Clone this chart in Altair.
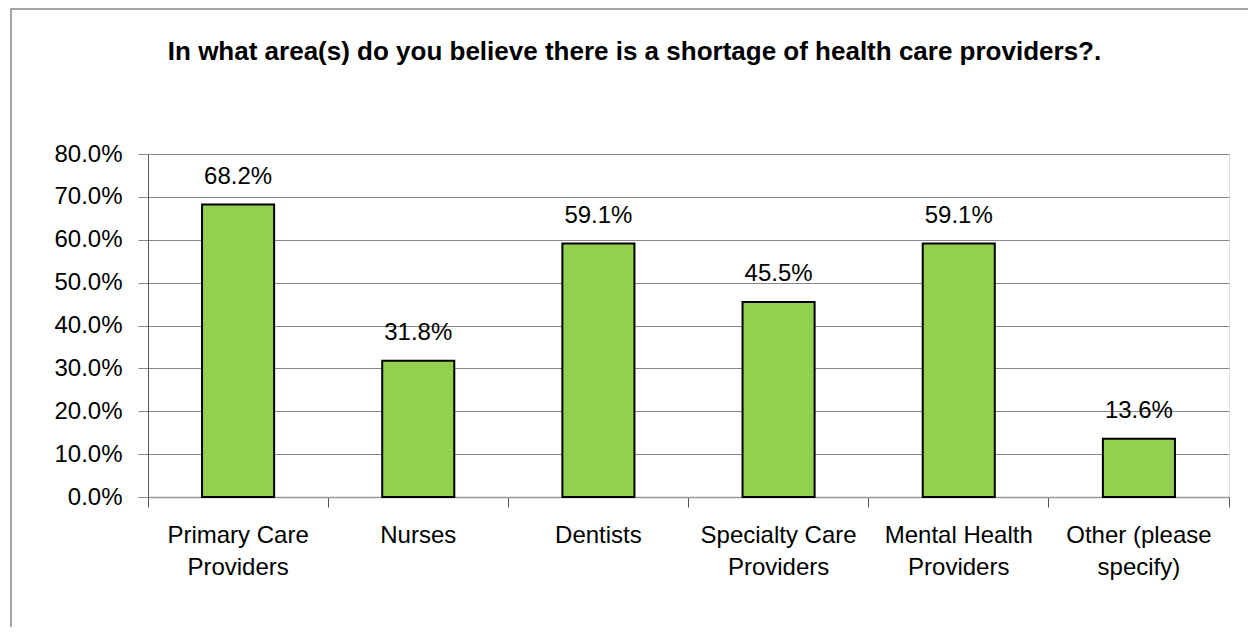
import altair as alt
import pandas as pd

categories = [
    "Primary Care Providers",
    "Nurses",
    "Dentists",
    "Specialty Care Providers",
    "Mental Health Providers",
    "Other (please specify)",
]
values = [0.682, 0.318, 0.591, 0.455, 0.591, 0.136]
y_ticks = [0.0, 0.1, 0.2, 0.3, 0.4, 0.5, 0.6, 0.7, 0.8]
title_text = "In what area(s) do you believe there is a shortage of health care providers?."

df = pd.DataFrame({"category": categories, "value": values})

FONT = "Liberation Sans"

x_enc = alt.X(
    "category:N",
    sort=categories,
    title=None,
    scale=alt.Scale(paddingInner=0, paddingOuter=0),
    axis=alt.Axis(
        labelAngle=0,
        labelFontSize=24,
        labelFont=FONT,
        labelColor="#000000",
        labelLineHeight=32,
        labelPadding=16,
        labelExpr="indexof(datum.label, ' ') > 0 ? [substring(datum.label, 0, lastindexof(datum.label, ' ')), substring(datum.label, lastindexof(datum.label, ' ') + 1)] : datum.label",
        bandPosition=1,
        tickExtra=True,
        tickSize=10,
        tickColor="#555555",
        domainColor="#999999",
        domainWidth=1.5,
        grid=False,
    ),
)

y_enc = alt.Y(
    "value:Q",
    title=None,
    scale=alt.Scale(domain=[0, 0.8]),
    axis=alt.Axis(
        values=y_ticks,
        format=".1%",
        labelFontSize=24,
        labelFont=FONT,
        labelColor="#000000",
        labelPadding=16,
        tickSize=10,
        tickColor="#888888",
        domainColor="#555555",
        grid=True,
        gridColor="#888888",
        gridWidth=1,
    ),
)

base = alt.Chart(df)

bars = base.mark_bar(
    width={"band": 0.4}, color="#92d050", stroke="#000000", strokeWidth=2
).encode(x=x_enc, y=y_enc)

labels = base.mark_text(
    fontSize=24, font=FONT, color="#000000", baseline="alphabetic", dy=-21
).encode(
    x=alt.X("category:N", sort=categories),
    y="value:Q",
    text=alt.Text("value:Q", format=".1%"),
)

border = alt.Chart(pd.DataFrame({"a": [0]})).mark_rect(
    fill=None, stroke="#888888", strokeWidth=1.5
).encode(
    x=alt.value(-137), x2=alt.value(3000), y=alt.value(-145), y2=alt.value(3000)
)

chart = (
    alt.layer(border, bars, labels)
    .properties(
        width=1081,
        height=343,
        autosize=alt.AutoSizeParams(type="none"),
        padding={"left": 140, "top": 146, "right": 19, "bottom": 130},
        title=alt.TitleParams(
            title_text,
            font=FONT,
            fontSize=26,
            fontWeight="bold",
            color="#000000",
            anchor="middle",
            dx=-54,
            offset=-57,
        ),
    )
    .configure_view(fill="#ebebeb", stroke=None)
    .configure(background="#ffffff")
)

chart.save("out.html", embed_options={"renderer": "svg", "actions": False})
